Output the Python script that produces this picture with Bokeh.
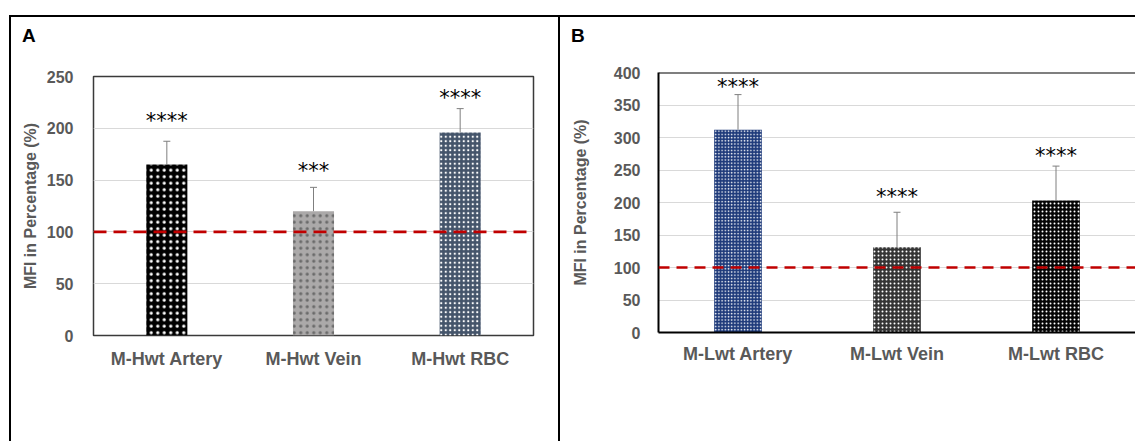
from bokeh.plotting import figure
from bokeh.models import ColumnDataSource, Range1d, Span, Whisker, TeeHead, FixedTicker, Div
from bokeh.core.properties import value
from bokeh.embed import file_html
from bokeh.resources import INLINE

# ---------------- data ----------------
cats_a = ["M-Hwt Artery", "M-Hwt Vein", "M-Hwt RBC"]
mfi_a = [165, 120, 196]
err_a = [22.5, 23, 23]
sig_a = ["****", "***", "****"]
sig_y_a = [207, 159, 229]
ticks_a = [0, 50, 100, 150, 200, 250]

cats_b = ["M-Lwt Artery", "M-Lwt Vein", "M-Lwt RBC"]
mfi_b = [312, 131, 203]
err_b = [54, 54, 53]
sig_b = ["****", "****", "****"]
sig_y_b = [377, 208, 271]
ticks_b = [0, 50, 100, 150, 200, 250, 300, 350, 400]

ref_level = 100
y_label = "MFI in Percentage (%)"
panel_letters = ["A", "B"]

# ---------------- styles ----------------
style_a = dict(fill=["#000000", "#ABA9A9", "#44546A"],
               hatch=["#FFFFFF", "#6A6A6A", "#FFFFFF"],
               scale=[6.5, 6.5, 4.5], weight=[1.6, 0.9, 1.1])
style_b = dict(fill=["#1E3A7A", "#343434", "#050505"],
               hatch=["#FFFFFF", "#FFFFFF", "#FFFFFF"],
               scale=[3.2, 4.0, 4.0], weight=[1.2, 1.4, 1.3])

GREY = "#595959"
FONT = "Liberation Sans"


def make_panel(cats, vals, errs, sig, sig_y, ticks, style, width, mbl, mbr, mbt, mbb,
               bar_w, dash, framed, ystand, lstand, xstand, css):
    ymax = ticks[-1]
    p = figure(x_range=cats, y_range=Range1d(0, ymax), width=width, height=426,
               output_backend="svg", toolbar_location=None,
               min_border_left=mbl, min_border_right=mbr,
               min_border_top=mbt, min_border_bottom=mbb, styles=css)
    p.background_fill_color = "white"
    p.border_fill_color = "white"

    src = ColumnDataSource(dict(cat=cats, val=vals,
                                upper=[v + e for v, e in zip(vals, errs)],
                                fill=style["fill"], hatch=style["hatch"],
                                scale=style["scale"], weight=style["weight"]))
    p.vbar(x="cat", top="val", width=bar_w, source=src, fill_color="fill",
           line_color=None, hatch_pattern="dot", hatch_color="hatch",
           hatch_scale="scale", hatch_weight="weight")

    wh = Whisker(source=src, base="cat", upper="upper", lower="val",
                 dimension="height", line_color="#7F7F7F", line_width=1,
                 upper_head=TeeHead(size=7, line_color="#7F7F7F", line_width=1),
                 lower_head=None, level="overlay")
    p.add_layout(wh)

    p.add_layout(Span(location=ref_level, dimension="width", line_color="#C00000",
                      line_dash=dash, line_width=2.6))

    p.text(x=cats, y=sig_y, text=sig, text_font=value("DejaVu Sans"),
           text_font_size="21px", text_align="center", text_baseline="middle",
           text_color="black")

    # axes
    p.yaxis.ticker = FixedTicker(ticks=ticks)
    p.yaxis.axis_line_color = None
    p.yaxis.major_tick_line_color = None
    p.yaxis.minor_tick_line_color = None
    p.yaxis.major_label_text_font = FONT
    p.yaxis.major_label_text_font_size = "16px"
    p.yaxis.major_label_text_font_style = "bold"
    p.yaxis.major_label_text_color = GREY
    p.yaxis.major_label_standoff = ystand
    p.yaxis.axis_label = y_label
    p.yaxis.axis_label_text_font = FONT
    p.yaxis.axis_label_text_font_size = "16px"
    p.yaxis.axis_label_text_font_style = "bold"
    p.yaxis.axis_label_text_color = GREY
    p.yaxis.axis_label_standoff = lstand

    p.xaxis.major_tick_line_color = None
    p.xaxis.minor_tick_line_color = None
    p.xaxis.major_label_text_font = FONT
    p.xaxis.major_label_text_font_size = "18px"
    p.xaxis.major_label_text_font_style = "bold"
    p.xaxis.major_label_text_color = GREY
    p.xaxis.major_label_standoff = xstand

    p.xgrid.grid_line_color = None
    p.ygrid.grid_line_color = "#D9D9D9"
    p.ygrid.grid_line_width = 1

    if framed:
        p.outline_line_color = "#3A3A3A"
        p.outline_line_width = 1.5
        p.xaxis.axis_line_color = None
    else:
        p.outline_line_color = None
        p.xaxis.axis_line_color = "black"
        p.xaxis.axis_line_width = 2
        p.yaxis.axis_line_color = "black"
        p.yaxis.axis_line_width = 2
        p.add_layout(Span(location=ymax, dimension="width", line_color="black",
                          line_width=2))
    return p


css_a = {"position": "absolute", "left": "9px", "top": "15px",
         "border-left": "2px solid black", "border-top": "2px solid black",
         "border-right": "2px solid black"}
css_b = {"position": "absolute", "left": "560px", "top": "15px",
         "border-top": "2px solid black"}

pa = make_panel(cats_a, mfi_a, err_a, sig_a, sig_y_a, ticks_a, style_a,
                width=551, mbl=82, mbr=29, mbt=59, mbb=108, bar_w=0.28,
                dash="13 7", framed=True, ystand=14, lstand=5, xstand=7, css=css_a)
pb = make_panel(cats_b, mfi_b, err_b, sig_b, sig_y_b, ticks_b, style_b,
                width=575, mbl=98, mbr=0, mbt=55, mbb=111, bar_w=0.30,
                dash="11 7", framed=False, ystand=12, lstand=22, xstand=5, css=css_b)


def letter_div(txt, left):
    return Div(text=txt, width=20, height=20,
               styles={"position": "absolute", "left": f"{left}px", "top": "26px",
                       "font-family": FONT, "font-size": "19px", "font-weight": "bold",
                       "line-height": "19px", "color": "black", "margin": "0",
                       "padding": "0", "z-index": "5"})


da = letter_div(panel_letters[0], 22)
db = letter_div(panel_letters[1], 571)

open("out.html", "w").write(file_html([pa, pb, da, db], INLINE))
